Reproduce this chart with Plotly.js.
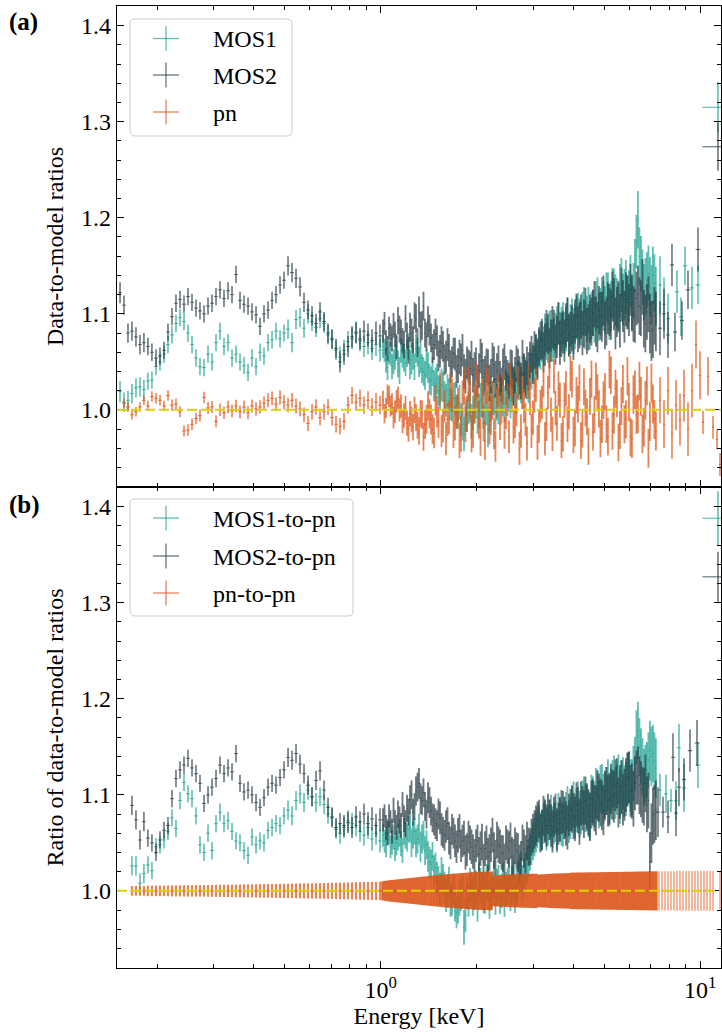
<!DOCTYPE html>
<html><head><meta charset="utf-8">
<script src="https://cdn.plot.ly/plotly-3.0.1.min.js"></script>
<style>html,body{margin:0;padding:0;background:#fff;}#chart{width:722px;height:1036px;}</style>
</head><body><div id="chart"></div>
<script>
// ---------------- DATA ----------------
// Energy grid (keV) shared by the binned spectra
const ENERGY = [
0.1529,0.1573,0.1619,0.1666,0.1715,0.1765,0.1816,0.1869,0.1924,0.1981,
0.2039,0.2099,0.2160,0.2223,0.2288,0.2355,0.2424,0.2495,0.2568,0.2643,
0.2720,0.2800,0.2882,0.2966,0.3053,0.3142,0.3234,0.3329,0.3426,0.3526,
0.3629,0.3735,0.3845,0.3957,0.4073,0.4192,0.4314,0.4441,0.4571,0.4704,
0.4842,0.4983,0.5129,0.5279,0.5433,0.5592,0.5755,0.5924,0.6097,0.6275,
0.6459,0.6648,0.6842,0.7042,0.7248,0.7460,0.7678,0.7903,0.8134,0.8372,
0.8616,0.8867,0.9126,0.9393,0.9667,0.9951,
1.0167,1.0389,1.0616,1.0848,1.1085,1.1328,1.1576,1.1828,1.2087,1.2351,
1.2621,1.2896,1.3178,1.3466,1.3760,1.4060,1.4368,1.4681,1.5002,1.5330,
1.5665,1.6007,1.6357,1.6714,1.7079,1.7452,1.7833,1.8223,1.8621,1.9028,
1.9443,1.9868,2.0302,2.0745,2.1198,2.1661,2.2135,2.2618,2.3112,2.3617,
2.4133,2.4660,2.5198,2.5749,2.6311,2.6886,2.7473,2.8073,2.8686,2.9313,
2.9953,3.0607,3.1276,3.1959,3.2657,3.3370,3.4099,3.4843,3.5604,3.6382,
3.7176,3.7988,3.8818,3.9665,4.0532,4.1417,4.2321,4.3245,4.4190,4.5155,
4.6141,4.7149,4.8178,4.9231,5.0306,5.1404,5.2527,5.3674,5.4846,5.6044,
5.7268,5.8519,5.9797,6.1103,6.2437,6.3800,6.5194,6.6618,6.8072,6.9559,
7.1078,7.2630];
// second (interleaved) set of fine bins above 1 keV
const ENERGY_2 = [
1.0277,1.0502,1.0731,1.0966,1.1206,1.1451,1.1701,1.1957,1.2218,1.2486,
1.2758,1.3036,1.3321,1.3612,1.3909,1.4213,1.4524,1.4841,1.5165,1.5496,
1.5835,1.6181,1.6535,1.6896,1.7265,1.7642,1.8027,1.8421,1.8824,1.9235,
1.9655,2.0084,2.0523,2.0971,2.1429,2.1897,2.2375,2.2864,2.3363,2.3874,
2.4395,2.4928,2.5472,2.6029,2.6597,2.7178,2.7772,2.8378,2.8998,2.9632,
3.0279,3.0940,3.1616,3.2306,3.3012,3.3733,3.4470,3.5222,3.5992,3.6778,
3.7581,3.8402,3.9240,4.0097,4.0973,4.1868,4.2782,4.3717,4.4671,4.5647,
4.6644,4.7663,4.8703,4.9767,5.0854,5.1965,5.3099,5.4259,5.5444,5.6655,
5.7892,5.9156,6.0448,6.1768,6.3117,6.4495,6.5903,6.7342,6.8812,7.0315,
7.1851];

// Panel (a): data-to-model ratios
const MOS1_A = [
1.019,1.008,1.010,1.017,1.023,1.024,1.021,1.030,1.031,1.045,
1.050,1.058,1.068,1.078,1.090,1.096,1.092,1.080,1.068,1.054,
1.045,1.044,1.058,1.050,1.070,1.082,1.066,1.070,1.054,1.058,
1.050,1.046,1.039,1.054,1.045,1.060,1.056,1.070,1.073,1.082,
1.074,1.080,1.084,1.070,1.094,1.096,1.085,1.100,1.092,1.086,
1.095,1.090,1.078,1.073,1.062,1.055,1.062,1.071,1.074,1.081,
1.072,1.066,1.070,1.064,1.068,1.062,
1.066,1.052,1.060,1.045,1.055,1.048,1.062,1.054,1.059,1.047,
1.056,1.064,1.050,1.043,1.036,1.044,1.030,1.025,1.032,1.018,
1.024,1.010,1.016,1.004,1.012,0.998,0.990,0.975,0.994,1.005,
0.997,1.008,0.999,1.011,1.003,0.980,1.006,1.014,1.008,1.019,
1.012,1.024,1.017,1.028,1.021,1.032,1.026,1.038,1.031,1.044,
1.050,1.057,1.064,1.071,1.078,1.070,1.082,1.075,1.086,1.079,
1.090,1.084,1.077,1.092,1.086,1.098,1.090,1.103,1.095,1.088,
1.101,1.108,1.097,1.112,1.104,1.116,1.108,1.120,1.111,1.124,
1.115,1.128,1.118,1.110,1.150,1.198,1.152,1.122,1.135,1.128,
1.140,1.118];
const MOS1_A_2 = [
1.062,1.044,1.058,1.050,1.064,1.041,1.057,1.049,1.066,1.052,
1.045,1.060,1.054,1.040,1.048,1.032,1.040,1.028,1.020,1.026,
1.014,1.020,1.006,1.012,0.998,1.008,0.985,0.995,1.002,0.988,
1.004,0.992,1.010,0.986,1.002,0.995,1.012,0.998,1.004,1.016,
1.006,1.020,1.010,1.024,1.015,1.030,1.020,1.035,1.027,1.040,
1.047,1.054,1.062,1.066,1.074,1.082,1.072,1.080,1.090,1.084,
1.080,1.094,1.088,1.082,1.096,1.092,1.100,1.088,1.104,1.098,
1.094,1.112,1.102,1.108,1.118,1.100,1.122,1.114,1.106,1.130,
1.120,1.112,1.134,1.124,1.175,1.160,1.138,1.128,1.142,1.120,
1.132];
const MOS2_A = [
1.122,1.109,1.080,1.082,1.076,1.068,1.070,1.066,1.060,1.054,
1.056,1.062,1.081,1.097,1.111,1.115,1.110,1.118,1.112,1.106,
1.103,1.100,1.108,1.111,1.118,1.125,1.116,1.124,1.120,1.141,
1.114,1.110,1.108,1.102,1.099,1.087,1.100,1.104,1.114,1.120,
1.130,1.135,1.150,1.143,1.137,1.128,1.112,1.104,1.098,1.090,
1.102,1.092,1.080,1.074,1.064,1.050,1.058,1.066,1.076,1.080,
1.074,1.082,1.078,1.072,1.080,1.077,
1.082,1.070,1.085,1.074,1.079,1.093,1.081,1.068,1.077,1.086,
1.073,1.095,1.102,1.088,1.080,1.092,1.075,1.068,1.072,1.061,
1.066,1.055,1.062,1.050,1.058,1.046,1.052,1.040,1.049,1.043,
1.036,1.048,1.041,1.051,1.038,1.044,1.035,1.047,1.040,1.033,
1.045,1.038,1.030,1.042,1.036,1.044,1.030,1.039,1.046,1.052,
1.047,1.058,1.066,1.074,1.068,1.079,1.072,1.083,1.076,1.070,
1.081,1.088,1.078,1.085,1.092,1.084,1.097,1.090,1.082,1.095,
1.101,1.092,1.104,1.097,1.088,1.106,1.099,1.110,1.102,1.093,
1.108,1.115,1.104,1.112,1.098,1.120,1.106,1.095,1.102,1.090,
1.084,1.092];
const MOS2_A_2 = [
1.090,1.064,1.078,1.088,1.066,1.084,1.072,1.095,1.062,1.080,
1.098,1.070,1.086,1.108,1.076,1.083,1.064,1.079,1.056,1.070,
1.052,1.068,1.045,1.059,1.040,1.055,1.062,1.035,1.046,1.054,
1.042,1.030,1.056,1.034,1.046,1.028,1.052,1.032,1.048,1.026,
1.050,1.034,1.044,1.025,1.048,1.036,1.054,1.032,1.040,1.058,
1.062,1.052,1.072,1.060,1.082,1.064,1.086,1.068,1.090,1.078,
1.072,1.094,1.080,1.076,1.098,1.088,1.080,1.102,1.086,1.092,
1.110,1.086,1.098,1.114,1.092,1.104,1.118,1.090,1.108,1.120,
1.097,1.112,1.125,1.100,1.116,1.108,1.128,1.090,1.110,1.082,
1.098];
const PN_A = [
null,1.007,1.003,0.995,0.998,1.003,1.010,1.004,1.014,1.012,
1.010,1.004,1.015,1.005,1.006,0.998,0.978,0.979,0.985,0.991,
0.994,1.013,1.002,1.003,0.988,1.000,0.997,1.003,0.999,1.004,
0.998,1.003,0.997,1.004,1.001,1.003,1.007,1.010,1.012,1.006,
1.013,1.008,1.005,1.010,1.004,1.001,0.995,0.986,0.998,1.003,
0.992,0.998,1.003,0.992,0.985,0.983,0.988,1.005,1.015,1.008,
1.012,1.005,1.010,1.003,1.008,1.005,
1.010,1.002,1.014,1.006,0.998,1.012,1.004,0.994,0.986,0.996,
0.982,0.992,0.978,0.995,0.985,1.004,0.990,0.976,0.998,1.022,
0.983,0.970,0.992,1.015,0.986,1.005,0.975,1.024,0.996,1.010,
0.980,1.030,0.990,1.012,0.968,1.018,0.994,0.975,1.008,0.985,
1.022,0.997,0.972,1.015,0.988,1.028,0.978,1.004,0.965,1.012,
0.992,1.026,0.983,1.008,0.970,1.018,0.995,1.035,0.986,1.010,
0.975,1.022,0.998,1.032,0.981,1.006,0.968,1.024,0.993,1.014,
0.977,1.030,1.001,0.985,1.019,0.972,1.036,0.995,1.012,0.979,
1.027,0.990,1.008,0.970,1.021,0.996,1.014,0.982,1.025,0.988,
1.006,0.978];
const PN_A_2 = [
0.996,1.016,1.004,0.992,1.009,1.000,0.988,1.002,0.980,0.990,
1.000,0.984,0.996,0.972,0.990,0.996,0.980,1.010,0.987,0.978,
1.004,0.990,1.020,0.978,0.998,0.968,1.012,0.985,1.028,0.975,
1.005,1.022,0.972,1.000,1.026,0.984,1.010,0.962,1.020,1.002,
0.976,1.010,1.032,0.982,1.000,0.960,1.018,0.990,1.030,0.978,
1.015,0.966,1.004,1.030,0.985,1.040,0.975,1.002,1.022,0.968,
1.010,0.985,1.038,0.974,1.015,1.028,0.980,1.002,0.962,1.032,
0.995,1.018,0.970,1.010,0.985,1.042,0.978,1.022,0.966,1.004,
0.985,1.035,0.972,1.016,0.995,1.030,0.975,1.010,0.960,1.028,
0.990];

// Panel (b): ratio of data-to-model ratios (to pn)
const MOS1_B = [
null,null,null,1.026,1.026,1.008,1.018,1.027,1.021,1.046,
1.048,1.053,1.062,1.076,1.065,1.094,1.113,1.101,1.096,1.078,
1.048,1.040,1.060,1.042,1.070,1.082,1.070,1.073,1.062,1.052,
1.050,1.042,1.037,1.056,1.048,1.052,1.050,1.063,1.066,1.070,
1.068,1.078,1.084,1.078,1.094,1.101,1.092,1.105,1.098,1.092,
1.098,1.090,1.080,1.076,1.064,1.060,1.066,1.073,1.070,1.068,
1.062,1.058,1.066,1.054,1.060,1.052,
1.058,1.048,1.060,1.051,1.044,1.056,1.049,1.062,1.055,1.066,
1.058,1.050,1.064,1.054,1.042,1.036,1.028,1.021,1.014,1.002,
1.012,0.995,1.008,0.990,0.985,0.984,0.996,0.962,0.998,1.006,
0.992,1.004,1.012,1.000,0.994,1.008,0.999,1.012,1.004,0.994,
1.010,1.002,1.015,1.006,0.996,1.012,1.022,1.014,1.028,1.040,
1.052,1.061,1.070,1.064,1.074,1.068,1.078,1.070,1.062,1.075,
1.068,1.080,1.072,1.084,1.078,1.090,1.082,1.094,1.086,1.078,
1.095,1.102,1.090,1.106,1.098,1.110,1.101,1.114,1.105,1.098,
1.112,1.106,1.118,1.108,1.132,1.167,1.140,1.118,1.126,1.146,
1.143,1.128];
const MOS1_B_2 = [
1.052,1.062,1.046,1.056,1.050,1.060,1.042,1.058,1.064,1.050,
1.062,1.054,1.046,1.058,1.048,1.030,1.036,1.024,1.010,1.018,
1.004,1.000,0.990,1.002,0.978,0.992,1.000,0.975,0.990,1.002,
0.998,0.985,1.006,0.996,1.010,0.990,1.002,0.994,1.008,1.000,
0.992,1.006,0.998,1.012,1.004,1.018,1.008,1.020,1.034,1.046,
1.056,1.066,1.062,1.070,1.064,1.074,1.066,1.072,1.080,1.070,
1.076,1.086,1.076,1.090,1.084,1.080,1.092,1.086,1.080,1.096,
1.090,1.098,1.106,1.096,1.104,1.094,1.110,1.102,1.116,1.108,
1.104,1.116,1.110,1.122,1.160,1.150,1.130,1.122,1.136,1.140,
1.135];
const MOS2_B = [
null,null,null,1.089,1.074,1.053,1.072,1.055,1.050,1.040,
1.053,1.063,1.068,1.096,1.117,1.126,1.131,1.138,1.128,1.122,
1.112,1.091,1.100,1.108,1.117,1.131,1.122,1.128,1.124,1.143,
1.112,1.103,1.105,1.100,1.092,1.087,1.097,1.108,1.112,1.110,
1.118,1.126,1.139,1.136,1.143,1.132,1.122,1.110,1.098,1.115,
1.125,1.105,1.087,1.077,1.066,1.070,1.068,1.071,1.066,1.077,
1.072,1.080,1.070,1.075,1.068,1.074,
1.074,1.066,1.078,1.062,1.071,1.080,1.068,1.075,1.086,1.095,
1.082,1.104,1.112,1.094,1.088,1.097,1.083,1.074,1.068,1.076,
1.061,1.067,1.055,1.064,1.052,1.058,1.047,1.055,1.043,1.050,
1.041,1.047,1.038,1.051,1.044,1.036,1.048,1.042,1.053,1.046,
1.039,1.050,1.043,1.036,1.047,1.040,1.033,1.044,1.052,1.046,
1.060,1.068,1.075,1.063,1.072,1.080,1.068,1.077,1.064,1.074,
1.082,1.070,1.079,1.086,1.075,1.084,1.091,1.080,1.088,1.077,
1.092,1.084,1.097,1.089,1.100,1.094,1.106,1.098,1.112,1.103,
1.095,1.110,1.118,1.104,1.112,1.120,1.106,1.098,1.090,1.030,
1.078,1.084];
const MOS2_B_2 = [
1.078,1.060,1.072,1.084,1.066,1.074,1.090,1.070,1.082,1.100,
1.088,1.108,1.096,1.102,1.080,1.092,1.076,1.070,1.080,1.064,
1.058,1.070,1.050,1.060,1.046,1.062,1.052,1.040,1.056,1.046,
1.036,1.052,1.044,1.030,1.050,1.040,1.058,1.034,1.048,1.040,
1.030,1.046,1.052,1.034,1.042,1.028,1.050,1.038,1.046,1.056,
1.064,1.072,1.060,1.078,1.068,1.074,1.062,1.080,1.070,1.082,
1.076,1.066,1.084,1.078,1.090,1.072,1.086,1.094,1.082,1.090,
1.086,1.100,1.092,1.084,1.104,1.096,1.100,1.110,1.092,1.108,
1.100,1.116,1.104,1.096,1.118,1.110,1.100,1.112,1.094,1.060,
1.080];
const PN_B = [
null,null,null,1,1,1,1,1,1,1,
1,1,1,1,1,1,1,1,1,1, 1,1,1,1,1,1,1,1,1,1, 1,1,1,1,1,1,1,1,1,1,
1,1,1,1,1,1,1,1,1,1, 1,1,1,1,1,1,1,1,1,1, 1,1,1,1,1,1,
1,1,1,1,1,1,1,1,1,1, 1,1,1,1,1,1,1,1,1,1, 1,1,1,1,1,1,1,1,1,1,
1,1,1,1,1,1,1,1,1,1, 1,1,1,1,1,1,1,1,1,1, 1,1,1,1,1,1,1,1,1,1,
1,1,1,1,1,1,1,1,1,1, 1,1,1,1,1,1,1,1,1,1, 1,1,1,1,1,1,1,1,1,1,
1,1];

// 1-sigma errors
const ERR_MOS = [
0.011,0.010,0.010,0.010,0.010,0.010,0.010,0.009,0.009,0.009,
0.009,0.009,0.009,0.009,0.009,0.009,0.009,0.009,0.009,0.009,
0.009,0.009,0.009,0.009,0.009,0.009,0.009,0.009,0.009,0.009,
0.009,0.009,0.009,0.009,0.009,0.009,0.009,0.009,0.009,0.009,
0.009,0.009,0.010,0.010,0.010,0.010,0.010,0.010,0.010,0.010,
0.010,0.010,0.010,0.010,0.010,0.011,0.011,0.011,0.011,0.011,
0.011,0.011,0.012,0.012,0.012,0.012,
0.012,0.013,0.012,0.013,0.013,0.014,0.013,0.014,0.014,0.015,
0.014,0.015,0.016,0.015,0.015,0.016,0.015,0.016,0.016,0.017,
0.016,0.017,0.017,0.016,0.017,0.018,0.017,0.018,0.017,0.018,
0.018,0.017,0.018,0.019,0.018,0.019,0.018,0.019,0.019,0.018,
0.019,0.018,0.019,0.020,0.019,0.020,0.019,0.020,0.020,0.019,
0.020,0.021,0.020,0.021,0.022,0.021,0.022,0.021,0.022,0.023,
0.022,0.023,0.022,0.024,0.023,0.024,0.023,0.025,0.024,0.025,
0.024,0.026,0.025,0.026,0.025,0.027,0.026,0.027,0.026,0.028,
0.027,0.028,0.027,0.029,0.028,0.030,0.029,0.030,0.029,0.031,
0.030,0.031];
const ERR_PN = [
0.005,0.005,0.005,0.005,0.005,0.005,0.005,0.0055,0.0055,0.0055,
0.0055,0.0055,0.0055,0.0058,0.0058,0.0058,0.0058,0.006,0.006,0.006,
0.006,0.006,0.0062,0.0062,0.0062,0.0064,0.0064,0.0064,0.0066,0.0066,
0.0066,0.0068,0.0068,0.0068,0.007,0.007,0.007,0.0072,0.0072,0.0072,
0.0074,0.0074,0.0075,0.0076,0.0077,0.0078,0.0078,0.0079,0.008,0.008,
0.0081,0.0082,0.0083,0.0084,0.0085,0.0086,0.0087,0.0088,0.0089,0.009,
0.0091,0.0092,0.0093,0.0094,0.0095,0.0096,
0.010,0.0105,0.011,0.0113,0.0117,0.012,0.0123,0.0127,0.013,0.0133,
0.0137,0.014,0.0143,0.0147,0.015,0.0153,0.0157,0.016,0.0163,0.0167,
0.017,0.0172,0.0175,0.0177,0.018,0.0182,0.0185,0.0187,0.019,0.0192,
0.0194,0.0196,0.0198,0.0199,0.020,0.020,0.0202,
0.016,0.0162,0.0164,0.0166,0.0168,0.017,0.0171,0.0172,0.0173,0.0174,
0.0175,0.0176,0.0177,0.0178,0.0179,
0.017,0.0172,0.0174,0.0176,0.0178,0.018,0.0181,0.0182,0.0183,0.0184,0.0185,
0.019,0.019,0.0191,0.0191,0.0192,0.0192,0.0193,0.0193,0.0194,0.0194,
0.0195,0.0195,0.0196,0.0196,0.0197,0.0197,0.0198,0.0198,0.0199,0.0199,
0.020,0.020,0.0201,0.0201,0.0202,0.0202,0.0203,0.0203,0.0204];

// Wide high-energy bins (panel a)
const E_M1_A_HI = [7.480,7.699,7.924,8.454,8.701,8.956,9.420,9.836,11.36];
const MOS1_A_HI = [1.130,1.110,1.095,1.123,1.097,1.150,1.127,1.130,1.315];
const ERR_M1_A_HI = [0.030,0.028,0.026,0.022,0.020,0.020,0.022,0.020,0.026];
const XERR_M1_A_HI = [0.10,0.10,0.10,0.12,0.13,0.14,0.15,0.17,1.2];
const E_M2_A_HI = [7.480,7.699,7.924,8.155,8.333,8.764,9.152,9.836,11.36];
const MOS2_A_HI = [1.085,1.100,1.078,1.151,1.081,1.093,1.125,1.167,1.274];
const ERR_M2_A_HI = [0.028,0.026,0.024,0.022,0.020,0.020,0.020,0.023,0.025];
const XERR_M2_A_HI = [0.10,0.10,0.10,0.12,0.12,0.13,0.16,0.17,1.2];
const E_PN_A_HI = [7.480,7.699,7.924,8.155,8.393,8.639,8.892,9.152,9.420,9.695,9.978,10.197,10.570,10.959,11.279,11.526];
const PN_A_HI = [1.010,0.985,1.020,0.975,1.005,0.990,1.015,0.980,1.020,1.068,1.036,0.987,1.035,0.982,0.969,0.943];
const ERR_PN_A_HI = [0.024,0.025,0.025,0.026,0.026,0.027,0.027,0.028,0.028,0.025,0.025,0.012,0.020,0.012,0.010,0.012];

// Wide high-energy bins (panel b)
const E_M1_B_HI = [7.480,7.810,8.096,8.393,8.577,8.892,9.836,11.36];
const MOS1_B_HI = [1.105,1.101,1.094,1.094,1.149,1.107,1.131,1.388];
const ERR_M1_B_HI = [0.017,0.020,0.012,0.020,0.025,0.025,0.024,0.028];
const XERR_M1_B_HI = [0.10,0.10,0.11,0.11,0.12,0.13,0.17,1.2];
const E_M2_B_HI = [7.373,7.644,7.924,8.214,8.393,8.577,8.892,9.285,9.765,11.36];
const MOS2_B_HI = [1.082,1.082,1.077,1.139,1.081,1.108,1.116,1.146,1.154,1.327];
const ERR_M2_B_HI = [0.026,0.016,0.017,0.025,0.024,0.020,0.022,0.022,0.024,0.026];
const XERR_M2_B_HI = [0.10,0.10,0.10,0.11,0.11,0.12,0.13,0.15,0.17,1.2];
const E_PN_B_HI = [7.426,7.589,7.756,7.924,8.096,8.274,8.454,8.639,8.828,9.022,9.219,9.420,9.625,9.836,10.051,10.270,10.495,10.724,10.959,11.526];
const PN_B_HI = [1,1,1,1,1,1,1,1,1,1,1,1,1,1,1,1,1,1,1,1];
const ERR_PN_B_HI = [0.0204,0.0204,0.0205,0.0205,0.0205,0.0205,0.0206,0.0206,0.0206,0.0206,0.0206,0.0207,0.0207,0.0207,0.0207,0.0207,0.0207,0.0208,0.0208,0.0208];

const LEGEND_A = ['MOS1','MOS2','pn'];
const LEGEND_B = ['MOS1-to-pn','MOS2-to-pn','pn-to-pn'];
const X_TICKS = [1,10];
const X_TICKTEXT = ['10<sup>0</sup>','10<sup>1</sup>'];
const X_MINOR = [0.2,0.3,0.4,0.5,0.6,0.7,0.8,0.9,2,3,4,5,6,7,8,9];

// ---------------- STYLE ----------------
const TEAL = 'rgba(0,150,130,0.62)';
const DARK = 'rgba(36,54,64,0.68)';
const ORANGE = 'rgba(222,84,22,0.72)';
const ORANGE_SOLID = 'rgba(218,82,22,0.9)';
const FONT = '"Liberation Serif", "Times New Roman", Times, "DejaVu Serif", serif';
const LOW = 66; // index where the finer binning starts

function errTrace(x, y, ey, xerr, xa, ya, color, thick, xthick) {
  const t = {type:'scatter', mode:'markers', x:x, y:y, xaxis:xa, yaxis:ya,
    showlegend:false, hoverinfo:'skip',
    marker:{size:2, color:'rgba(0,0,0,0)'},
    error_y:{type:'data', array:ey, visible:true, color:color, thickness:thick, width:0}};
  if (typeof xerr === 'number') t.error_x = {type:'percent', value:xerr, visible:true, color:color, thickness:xthick, width:0};
  else t.error_x = {type:'data', array:xerr, visible:true, color:color, thickness:xthick, width:0};
  return t;
}
const part = (arr, lo, hi) => arr.slice(lo, hi);
const N2 = ENERGY_2.length;

// one binned spectrum = coarse bins + two interleaved sets of fine bins + wide bins
function spectrum(y, y2, err, eHi, yHi, errHi, xerrHi, xa, ya, color) {
  return [
    errTrace(part(ENERGY,0,LOW), part(y,0,LOW), part(err,0,LOW), 1.4, xa, ya, color, 1.6, 1),
    errTrace(part(ENERGY,LOW), part(y,LOW), part(err,LOW), 0.55, xa, ya, color, 1.8, 1),
    errTrace(ENERGY_2, y2, part(err,LOW,LOW+N2), 0.55, xa, ya, color, 1.8, 1),
    errTrace(eHi, yHi, errHi, xerrHi, xa, ya, color, 1.6, 1.2)
  ];
}

const traces = [].concat(
  // panel (a)
  spectrum(MOS1_A, MOS1_A_2, ERR_MOS, E_M1_A_HI, MOS1_A_HI, ERR_M1_A_HI, XERR_M1_A_HI, 'x2','y2', TEAL),
  spectrum(MOS2_A, MOS2_A_2, ERR_MOS, E_M2_A_HI, MOS2_A_HI, ERR_M2_A_HI, XERR_M2_A_HI, 'x2','y2', DARK),
  spectrum(PN_A, PN_A_2, ERR_PN, E_PN_A_HI, PN_A_HI, ERR_PN_A_HI, 0.8, 'x2','y2', ORANGE),
  // panel (b)
  spectrum(MOS1_B, MOS1_B_2, ERR_MOS, E_M1_B_HI, MOS1_B_HI, ERR_M1_B_HI, XERR_M1_B_HI, 'x','y', TEAL),
  spectrum(MOS2_B, MOS2_B_2, ERR_MOS, E_M2_B_HI, MOS2_B_HI, ERR_M2_B_HI, XERR_M2_B_HI, 'x','y', DARK),
  [
    errTrace(part(ENERGY,0,LOW), part(PN_B,0,LOW), part(ERR_PN,0,LOW), 1.3, 'x','y', ORANGE, 2.2, 1),
    errTrace(part(ENERGY,LOW), part(PN_B,LOW), part(ERR_PN,LOW), 1.1, 'x','y', ORANGE_SOLID, 3.4, 1),
    errTrace(E_PN_B_HI, PN_B_HI, ERR_PN_B_HI, 0.6, 'x','y', 'rgba(222,84,22,0.6)', 1.4, 1)
  ]
);

// ---------------- LAYOUT ----------------
const L=117, R=721, T=6, B=968;
const PX = v => (v-L)/(R-L);
const PY = v => (B-v)/(B-T);
function roundRect(x0,y0,x1,y1,r){
  const X=v=>PX(v).toFixed(5), Y=v=>PY(v).toFixed(5);
  return 'M'+X(x0+r)+','+Y(y0)+' L'+X(x1-r)+','+Y(y0)+' Q'+X(x1)+','+Y(y0)+' '+X(x1)+','+Y(y0+r)+
    ' L'+X(x1)+','+Y(y1-r)+' Q'+X(x1)+','+Y(y1)+' '+X(x1-r)+','+Y(y1)+
    ' L'+X(x0+r)+','+Y(y1)+' Q'+X(x0)+','+Y(y1)+' '+X(x0)+','+Y(y1-r)+
    ' L'+X(x0)+','+Y(y0+r)+' Q'+X(x0)+','+Y(y0)+' '+X(x0+r)+','+Y(y0)+' Z';
}

const shapes = [];
const annotations = [];
function legendBox(x1, y0, y1, labels, rows) {
  shapes.push({type:'path', xref:'paper', yref:'paper', path:roundRect(130,y0,x1,y1,5),
    fillcolor:'rgba(255,255,255,0.8)', line:{color:'#cccccc', width:1}, layer:'above'});
  const cols = [TEAL, DARK, ORANGE];
  rows.forEach((cy,i)=>{
    shapes.push({type:'line', xref:'paper', yref:'paper', x0:PX(153), x1:PX(179), y0:PY(cy), y1:PY(cy), line:{color:cols[i], width:1.3}, layer:'above'});
    shapes.push({type:'line', xref:'paper', yref:'paper', x0:PX(166), x1:PX(166), y0:PY(cy-12.5), y1:PY(cy+12.5), line:{color:cols[i], width:1.3}, layer:'above'});
    annotations.push({xref:'paper', yref:'paper', x:PX(211), y:PY(cy+1), xanchor:'left', yanchor:'middle', showarrow:false,
      text:labels[i], font:{family:FONT, size:24, color:'black'}});
  });
}
legendBox(292, 19, 136, LEGEND_A, [38.5, 75, 112]);
legendBox(353, 499, 616, LEGEND_B, [518, 556, 593]);

// reference line at ratio = 1
shapes.push({type:'line', xref:'x2 domain', yref:'y2', x0:0, x1:1, y0:1, y1:1, line:{color:'#d9d400', width:2, dash:'10px,4px'}, layer:'above'});
shapes.push({type:'line', xref:'x domain', yref:'y', x0:0, x1:1, y0:1, y1:1, line:{color:'#d9d400', width:2, dash:'10px,4px'}, layer:'above'});

annotations.push({xref:'paper', yref:'paper', x:PX(7), y:PY(22), xanchor:'left', yanchor:'middle', showarrow:false, text:'<b>(a)</b>', font:{family:FONT, size:25, color:'black'}});
annotations.push({xref:'paper', yref:'paper', x:PX(7), y:PY(505), xanchor:'left', yanchor:'middle', showarrow:false, text:'<b>(b)</b>', font:{family:FONT, size:25, color:'black'}});

const XRANGE = [-0.8251, 1.0648];
const YRANGE = [0.9197, 1.4205];
function xAxis(extra){
  return Object.assign({type:'log', range:XRANGE, tickmode:'array', tickvals:X_TICKS, ticktext:X_TICKTEXT,
    ticks:'inside', ticklen:7, tickwidth:1.2, tickcolor:'black', showline:true, linecolor:'black', linewidth:1.3,
    mirror:'allticks', showgrid:false, zeroline:false, tickfont:{family:FONT, size:24, color:'black'},
    minor:{tickmode:'array', tickvals:X_MINOR, ticks:'inside', ticklen:4, tickwidth:1, tickcolor:'black', showgrid:false}}, extra);
}
function yAxis(extra){
  return Object.assign({range:YRANGE, tickmode:'linear', tick0:1.0, dtick:0.1, tickformat:'.1f',
    ticks:'inside', ticklen:7, tickwidth:1.2, tickcolor:'black', showline:true, linecolor:'black', linewidth:1.3,
    mirror:'allticks', showgrid:false, zeroline:false, tickfont:{family:FONT, size:24, color:'black'},
    minor:{tick0:1.0, dtick:0.02, ticks:'inside', ticklen:4, tickwidth:1, tickcolor:'black', showgrid:false}}, extra);
}

const layout = {
  width:722, height:1036,
  margin:{l:L, r:722-R, t:T, b:1036-B, pad:0},
  paper_bgcolor:'white', plot_bgcolor:'white',
  font:{family:FONT, size:24, color:'black'},
  showlegend:false,
  xaxis: xAxis({anchor:'y', domain:[0,1], title:{text:'Energy [keV]', standoff:4, font:{family:FONT, size:24}}}),
  xaxis2: xAxis({anchor:'y2', domain:[0,1], matches:'x', showticklabels:false}),
  yaxis: yAxis({anchor:'x', domain:[0,0.5], title:{text:'Ratio of data-to-model ratios', standoff:10, font:{family:FONT, size:24}}}),
  yaxis2: yAxis({anchor:'x2', domain:[0.5,1], title:{text:'Data-to-model ratios', standoff:10, font:{family:FONT, size:24}}}),
  shapes: shapes,
  annotations: annotations
};

Plotly.newPlot('chart', traces, layout, {displayModeBar:false, staticPlot:true});
</script>
</body></html>
